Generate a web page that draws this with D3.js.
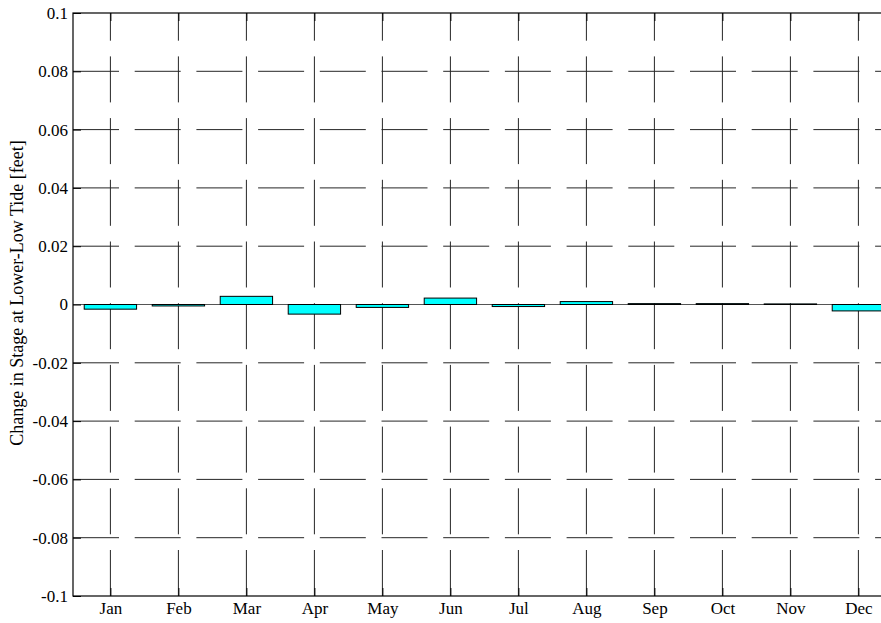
<!DOCTYPE html>
<html>
<head>
<meta charset="utf-8">
<script src="https://cdn.jsdelivr.net/npm/d3@7"></script>
<style>
  html, body { margin: 0; padding: 0; background: #fff; }
  svg { display: block; }
  text { font-family: "Liberation Serif", "Times New Roman", serif; fill: #000; }
</style>
</head>
<body>
<svg id="chart" width="881" height="623"></svg>
<script>
// ---- data ----
const months = ["Jan", "Feb", "Mar", "Apr", "May", "Jun", "Jul", "Aug", "Sep", "Oct", "Nov", "Dec"];
const changeValues = [-0.0016, -0.0005, 0.0028, -0.0033, -0.0010, 0.0022, -0.0007, 0.0010, 0.0003, 0.0003, 0.0002, -0.0022];
const yTickValues = [-0.1, -0.08, -0.06, -0.04, -0.02, 0, 0.02, 0.04, 0.06, 0.08, 0.1];
const yTickLabels = ["-0.1", "-0.08", "-0.06", "-0.04", "-0.02", "0", "0.02", "0.04", "0.06", "0.08", "0.1"];
const yLabel = "Change in Stage at Lower-Low Tide [feet]";

// ---- layout ----
const plotLeft = 73, plotTop = 13, plotBottom = 596;
const unit = 68;                       // px per month
const xMin = 0.45, xMax = 13.55;
const plotRight = plotLeft + (xMax - xMin) * unit;
const fontSize = 17;
const labelFontSize = 18;
const fontFam = "'Liberation Serif', 'Times New Roman', serif";
const tickLen = 8;
const barWidth = 0.77;
const gridColor = "#262626";

const svg = d3.select("#chart");

const x = d3.scaleLinear().domain([xMin, xMax]).range([plotLeft, plotRight]);
const y = d3.scaleLinear().domain([-0.1, 0.1]).range([plotBottom, plotTop]);

const idx = months.map((m, i) => i + 1);

// grid: horizontal (dashes start at the left)
svg.append("g").selectAll("line")
  .data(yTickValues.filter(v => v !== -0.1 && v !== 0.1))
  .join("line")
  .attr("x1", plotLeft).attr("x2", plotRight)
  .attr("y1", d => y(d)).attr("y2", d => y(d))
  .attr("stroke", gridColor).attr("stroke-width", 1)
  .attr("stroke-dasharray", "46,15.7");

// grid: vertical (dashes start at the bottom)
svg.append("g").selectAll("line")
  .data(idx)
  .join("line")
  .attr("x1", d => x(d)).attr("x2", d => x(d))
  .attr("y1", plotBottom).attr("y2", plotTop)
  .attr("stroke", gridColor).attr("stroke-width", 1)
  .attr("stroke-dasharray", "46,15.7");

// baseline
svg.append("line")
  .attr("x1", plotLeft).attr("x2", plotRight)
  .attr("y1", y(0)).attr("y2", y(0))
  .attr("stroke", "#555").attr("stroke-width", 1);

// bars
svg.append("g").selectAll("rect")
  .data(changeValues)
  .join("rect")
  .attr("x", (d, i) => x(i + 1 - barWidth / 2))
  .attr("width", x(barWidth) - x(0))
  .attr("y", d => y(Math.max(0, d)))
  .attr("height", d => Math.abs(y(d) - y(0)))
  .attr("fill", "#00ffff")
  .attr("stroke", "#000")
  .attr("stroke-width", 1);

// axes box
svg.append("rect")
  .attr("x", plotLeft).attr("y", plotTop)
  .attr("width", plotRight - plotLeft).attr("height", plotBottom - plotTop)
  .attr("fill", "none").attr("stroke", "#000").attr("stroke-width", 1.2);

// y ticks (inside) and labels
const yAxisL = d3.axisLeft(y).tickValues(yTickValues)
  .tickSize(-tickLen).tickPadding(5)
  .tickFormat((d, i) => yTickLabels[i]);
const gy = svg.append("g").attr("transform", `translate(${plotLeft},0)`).call(yAxisL)
  .attr("font-family", fontFam).attr("font-size", fontSize);
gy.select(".domain").remove();
gy.selectAll("text").style("font-size", fontSize + "px").style("font-family", fontFam);

const yAxisR = d3.axisRight(y).tickValues(yTickValues).tickSize(-tickLen).tickFormat("");
const gyr = svg.append("g").attr("transform", `translate(${plotRight},0)`).call(yAxisR);
gyr.select(".domain").remove();

// x ticks (inside) and labels
const xAxisB = d3.axisBottom(x).tickValues(idx)
  .tickSize(-tickLen).tickPadding(6)
  .tickFormat(d => months[d - 1]);
const gx = svg.append("g").attr("transform", `translate(0,${plotBottom})`).call(xAxisB)
  .attr("font-family", fontFam).attr("font-size", fontSize);
gx.select(".domain").remove();
gx.selectAll("text").style("font-size", fontSize + "px").style("font-family", fontFam);

const xAxisT = d3.axisTop(x).tickValues(idx).tickSize(-tickLen).tickFormat("");
const gxt = svg.append("g").attr("transform", `translate(0,${plotTop})`).call(xAxisT);
gxt.select(".domain").remove();

// y label
svg.append("text")
  .attr("transform", `translate(23,293) rotate(-90)`)
  .attr("text-anchor", "middle")
  .style("font-size", labelFontSize + "px")
  .style("font-family", fontFam)
  .text(yLabel);
</script>
</body>
</html>
